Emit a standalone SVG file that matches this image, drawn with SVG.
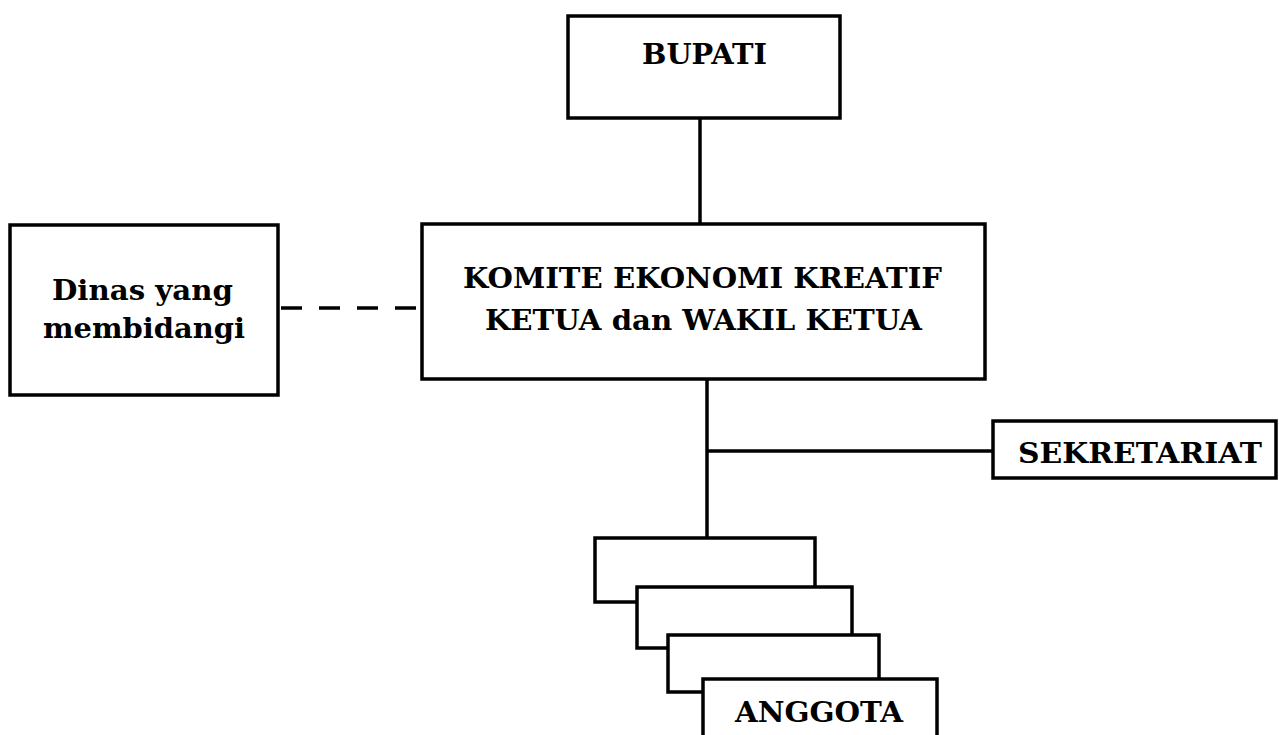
<svg xmlns="http://www.w3.org/2000/svg" width="1279" height="735" viewBox="0 0 1279 735">
<style>
.box{fill:#fff;stroke:#000;stroke-width:3.5}
.ln{stroke:#000;stroke-width:3.5;fill:none}
.dash{stroke:#000;stroke-width:3.5;fill:none;stroke-dasharray:21 17}
.t{font-family:"DejaVu Serif","Liberation Serif",serif;font-weight:bold;font-size:28px;fill:#000;text-anchor:middle}
</style>
<rect width="1279" height="735" fill="#fff"/>
<g id="connectors">
<line class="ln" x1="700" y1="118" x2="700" y2="224"/>
<line class="dash" x1="281" y1="308" x2="420" y2="308"/>
<line class="ln" x1="707" y1="380" x2="707" y2="538"/>
<line class="ln" x1="707" y1="451" x2="993" y2="451"/>
</g>
<g id="bupati">
<rect class="box" x="568" y="16" width="272" height="102"/>
<text class="t" x="704.5" y="64" textLength="125" lengthAdjust="spacingAndGlyphs">BUPATI</text>
</g>
<g id="komite">
<rect class="box" x="422" y="224" width="563" height="155"/>
<text class="t" x="702.5" y="288" textLength="479" lengthAdjust="spacingAndGlyphs">KOMITE EKONOMI KREATIF</text>
<text class="t" x="703.5" y="330" textLength="437" lengthAdjust="spacingAndGlyphs">KETUA dan WAKIL KETUA</text>
</g>
<g id="dinas">
<rect class="box" x="10" y="225" width="268" height="170"/>
<text class="t" x="142.5" y="300" textLength="181" lengthAdjust="spacingAndGlyphs">Dinas yang</text>
<text class="t" x="144" y="338" textLength="202" lengthAdjust="spacingAndGlyphs">membidangi</text>
</g>
<g id="sekretariat">
<rect class="box" x="993" y="421" width="283" height="57"/>
<text class="t" x="1140" y="463" textLength="244" lengthAdjust="spacingAndGlyphs">SEKRETARIAT</text>
</g>
<g id="anggota">
<rect class="box" x="595" y="538" width="220" height="64"/>
<rect class="box" x="637" y="587" width="215" height="61"/>
<rect class="box" x="668" y="635" width="211" height="57"/>
<rect class="box" x="703" y="679" width="234" height="70"/>
<text class="t" x="819" y="722" textLength="168" lengthAdjust="spacingAndGlyphs">ANGGOTA</text>
</g>
</svg>
